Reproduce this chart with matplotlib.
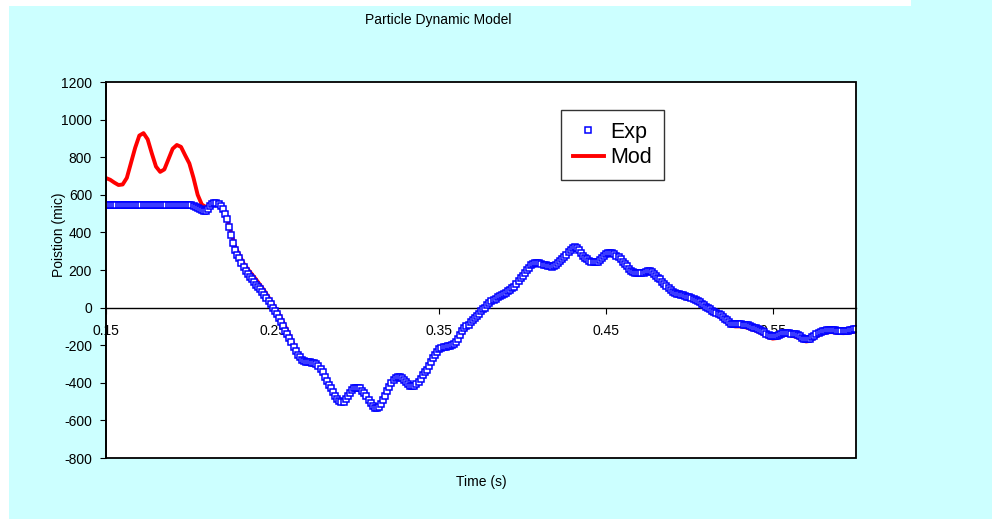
import numpy as np
import matplotlib
matplotlib.use("Agg")
import matplotlib.pyplot as plt
from matplotlib.patches import Rectangle

plt.rcParams['font.family'] = ['Liberation Sans', 'DejaVu Sans']
plt.rcParams['axes.unicode_minus'] = False

# time grids (s)
t_start = 0.15
exp_step = 0.00125
mod_step = 0.0025

# measured position (mic)
exp_pos = [545] * 41 + [
    544, 542, 536, 530, 524, 518, 513, 512, 526, 540,
    550, 556, 556, 552, 541, 525, 500, 470, 430, 385,
    343, 305, 280, 262, 238, 215, 197, 180, 165, 150,
    136, 122, 112, 100, 83, 65, 50, 35, 18, 0,
    -17, -35, -55, -75, -100, -125, -142, -160, -185, -210,
    -230, -250, -265, -278, -285, -290, -291, -292, -293, -295,
    -301, -310, -326, -345, -367, -390, -410, -430, -450, -470,
    -486, -497, -502, -500, -487, -470, -454, -440, -430, -425,
    -426, -430, -441, -455, -472, -490, -508, -525, -534, -535,
    -528, -515, -494, -470, -445, -420, -400, -385, -375, -370,
    -371, -375, -384, -395, -406, -415, -419, -418, -408, -395,
    -378, -360, -345, -330, -310, -290, -270, -250, -234, -220,
    -213, -210, -207, -205, -203, -200, -194, -185, -165, -145,
    -127, -110, -100, -90, -77, -65, -55, -45, -32, -20,
    -10, 0, 12, 25, 33, 40, 48, 55, 60, 65,
    72, 80, 88, 95, 102, 110, 124, 140, 155, 170,
    185, 200, 213, 225, 231, 235, 236, 235, 232, 228,
    225, 222, 219, 218, 222, 228, 237, 248, 259, 270,
    282, 295, 307, 318, 321, 318, 305, 290, 277, 265,
    256, 248, 244, 242, 243, 245, 254, 265, 275, 283,
    288, 290, 288, 285, 277, 268, 257, 245, 232, 220,
    207, 195, 189, 185, 183, 183, 183, 185, 190, 196,
    195, 190, 180, 170, 160, 150, 137, 125, 115, 105,
    95, 85, 80, 75, 71, 68, 65, 62, 59, 55,
    50, 45, 40, 35, 28, 20, 12, 3, -4, -10,
    -16, -22, -28, -35, -42, -50, -59, -68, -77, -85,
    -87, -88, -88, -88, -89, -90, -92, -95, -98, -102,
    -106, -110, -114, -118, -124, -130, -138, -145, -149, -152,
    -152, -150, -145, -140, -136, -134, -134, -136, -138, -140,
    -143, -146, -153, -160, -165, -168, -168, -165, -158, -150,
    -142, -135, -130, -125, -122, -120, -119, -118, -119, -120,
    -122, -123, -124, -124, -123, -122, -120, -118, -116, -114,
]

# model position (mic)
mod_pos = [
    689, 680, 665, 652, 655, 690, 770, 850, 915, 928,
    895, 820, 750, 722, 735, 790, 845, 865, 855, 810,
    767, 690, 600, 548, 535, 548, 560, 558, 530, 478,
    400, 325, 280, 235, 205, 178, 150, 120, 90, 55,
    20, -15, -55, -100, -145, -195, -240, -270, -285, -290,
    -295, -305, -340, -385, -430, -470, -495, -498, -475, -445,
    -428, -432, -455, -492, -528, -540, -520, -475, -425, -390,
    -372, -378, -398, -418, -420, -400, -365, -335, -295, -255,
    -225, -215, -210, -205, -192, -155, -120, -98, -72, -50,
    -26, -5, 18, 33, 48, 58, 72, 88, 103, 132,
    162, 192, 218, 228, 228, 222, 215, 212, 222, 242,
    263, 288, 310, 312, 285, 260, 242, 236, 240, 260,
    277, 285, 280, 263, 240, 215, 190, 180, 178, 180,
    190, 185, 165, 145, 120, 100, 80, 70, 62, 56,
    48, 38, 27, 12, -5, -18, -30, -44, -60, -78,
    -95, -100, -100, -102, -108, -115, -123, -132, -145, -158,
    -165, -162, -152, -145, -147, -152, -158, -172, -180, -177,
    -162, -147, -137, -132, -130, -132, -135, -136, -134, -130,
    -126,
]

x_ticks = [0.15, 0.25, 0.35, 0.45, 0.55]
x_labels = ["0.15", "0.25", "0.35", "0.45", "0.55"]
y_ticks = [-800, -600, -400, -200, 0, 200, 400, 600, 800, 1000, 1200]

t_exp = t_start + exp_step * np.arange(len(exp_pos))
t_mod = t_start + mod_step * np.arange(len(mod_pos))

fig = plt.figure(figsize=(9.92, 5.19), dpi=100, facecolor='white')

# cyan chart area (Excel style), with small white margin top/left
bg = '#CCFFFF'
fig.add_artist(Rectangle((9 / 992, 0), 1 - 9 / 992, 1 - 6 / 519,
                         transform=fig.transFigure, facecolor=bg,
                         edgecolor='none', zorder=-10))
fig.add_artist(Rectangle((911 / 992, 1 - 6 / 519), 1 - 911 / 992, 6 / 519,
                         transform=fig.transFigure, facecolor=bg,
                         edgecolor='none', zorder=-10))

ax = fig.add_axes([106 / 992, 1 - 458 / 519, 750 / 992, 376 / 519])
ax.set_facecolor('white')

ax.plot(t_mod, mod_pos, color='#FF0000', lw=2.8, label='Mod', zorder=2)
ax.plot(t_exp, exp_pos, ls='none', marker='s', ms=3.7, mec='#0000FF',
        mfc='white', mew=1.1, label='Exp', zorder=3)

ax.set_xlim(0.15, 0.60)
ax.set_ylim(-800, 1200)
ax.set_xticks(x_ticks)
ax.set_xticklabels(x_labels)
ax.set_yticks(y_ticks)

ax.spines['bottom'].set_position(('data', 0))
ax.spines['bottom'].set_linewidth(1.0)
ax.spines['left'].set_linewidth(1.2)
ax.spines['top'].set_visible(False)
ax.spines['right'].set_visible(False)
ax.add_patch(Rectangle((0, 0), 1, 1, transform=ax.transAxes, fill=False,
                       edgecolor='black', lw=1.3, clip_on=False, zorder=5))

ax.tick_params(axis='x', direction='out', length=4, pad=8, labelsize=10)
ax.tick_params(axis='y', direction='out', length=4, pad=6, labelsize=10)

handles, labels = ax.get_legend_handles_labels()
leg = ax.legend(handles[::-1], labels[::-1], loc='upper left',
                bbox_to_anchor=(561 / 992, 1 - 110 / 519),
                bbox_transform=fig.transFigure, borderaxespad=0,
                fontsize=15.5, frameon=True, fancybox=False,
                edgecolor='black', handlelength=1.45, handletextpad=0.3,
                borderpad=0.55, labelspacing=0.2, markerscale=1.0)
leg.get_frame().set_linewidth(1.0)

fig.text(438 / 992, 1 - 20 / 519, 'Particle Dynamic Model', ha='center',
         va='center', fontsize=10)
fig.text(481 / 992, 1 - 482 / 519, 'Time (s)', ha='center', va='center',
         fontsize=10)
fig.text(59 / 992, 1 - 235 / 519, 'Poistion (mic)', ha='center',
         va='center', rotation=90, fontsize=10)

fig.savefig('out.png', dpi=100, facecolor=fig.get_facecolor())
